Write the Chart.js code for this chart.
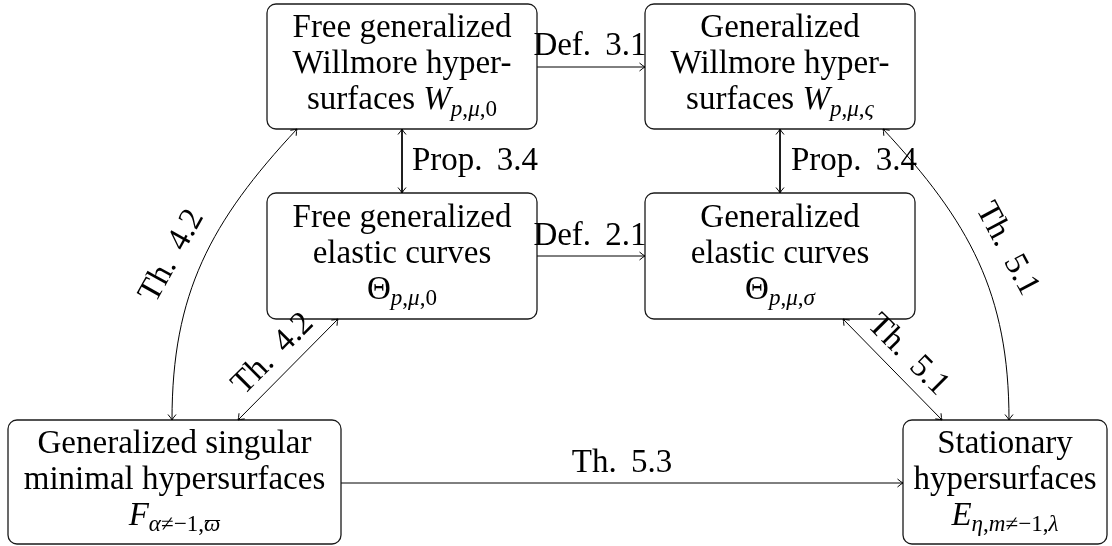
<!DOCTYPE html>
<html>
<head>
<meta charset="utf-8">
<script src="https://cdn.jsdelivr.net/npm/chart.js@4/dist/chart.umd.min.js"></script>
<style>
  html, body { margin: 0; padding: 0; background: #fff; }
  canvas { display: block; }
</style>
</head>
<body>
<canvas id="grafica" width="1112" height="546"></canvas>
<script>
// Nodes of the diagram (text, $...$ = math, _{...} = subscript)
const nodeLines = [
    ['Free generalized', 'Willmore hyper-', 'surfaces $W_{p,μ,0}$'],
    ['Generalized', 'Willmore hyper-', 'surfaces $W_{p,μ,ς}$'],
    ['Free generalized', 'elastic curves', '$Θ_{p,μ,0}$'],
    ['Generalized', 'elastic curves', '$Θ_{p,μ,σ}$'],
    ['Generalized singular', 'minimal hypersurfaces', '$F_{α≠−1,ϖ}$'],
    ['Stationary', 'hypersurfaces', '$E_{η,m≠−1,λ}$']
];
const nodeX = [402, 780, 402, 780, 174.5, 1005];
const nodeY = [66.5, 66.5, 256, 256, 482, 482];
const nodeW = [270, 270, 270, 270, 333, 204];
const nodeH = [125, 125, 126, 126, 124, 124];

// Edges
const edgeLabels = ['Def. 3.1', 'Prop. 3.4', 'Prop. 3.4', 'Def. 2.1', 'Th. 4.2', 'Th. 4.2', 'Th. 5.1', 'Th. 5.1', 'Th. 5.3'];
const edgeFrom = [[537, 67], [402, 129], [780, 129], [537, 256], [297, 129], [338, 319], [883, 129], [843, 319], [341, 483]];
const edgeTo = [[645, 67], [402, 193], [780, 193], [645, 256], [172, 420], [238, 420], [1009, 420], [942, 420], [903, 483]];
const edgeBoth = [false, true, true, false, true, true, true, true, false];
// [out, in] travel directions (deg, screen) for bent edges
const edgeCurve = [null, null, null, null, [133, 90], null, [47, 90], null, null];
// label anchor, alignment, rotation
const labelPos = [[590, 55], [412, 170], [791, 170], [590, 245], [172, 256], [273, 354], [1007, 249], [908, 355], [622, 472]];
const labelAlign = ['center', 'left', 'left', 'center', 'rot', 'rot', 'rot', 'rot', 'center'];
const labelAngle = [0, 0, 0, 0, -61, -45, 62, 45, 0];

const FONT = '"Liberation Serif", "DejaVu Serif", serif';
const FS = 33;

function parseLine(str) {
    const segs = [];
    str.split('$').forEach((p, k) => {
        if (!p) return;
        if (k % 2 === 0) {
            segs.push({ t: p, it: false, sub: false });
            return;
        }
        const m = p.match(/^(.*?)_\{(.*)\}$/);
        const base = m ? m[1] : p;
        const sub = m ? m[2] : '';
        for (const ch of base) segs.push({ t: ch, it: /[a-zA-Zα-ωϖ]/.test(ch), sub: false });
        for (const ch of sub) segs.push({ t: ch, it: /[a-zA-Zα-ωϖ]/.test(ch), sub: true });
    });
    return segs;
}

function fontOf(seg) {
    const size = seg.sub ? FS * 0.7 : FS;
    return `${seg.it ? 'italic ' : ''}${size}px ${FONT}`;
}

function drawRich(ctx, str, cx, baseline) {
    const segs = parseLine(str);
    let total = 0;
    segs.forEach(s => {
        ctx.font = fontOf(s);
        s.w = ctx.measureText(s.t).width;
        total += s.w;
    });
    let x = cx - total / 2;
    ctx.textAlign = 'left';
    ctx.textBaseline = 'alphabetic';
    segs.forEach(s => {
        ctx.font = fontOf(s);
        ctx.fillText(s.t, x, baseline + (s.sub ? FS * 0.21 : 0));
        x += s.w;
    });
}

// TeX puts a wider space after the abbreviation dot
function labelText(ctx, lab, x, y) {
    const parts = lab.split(' ');
    const gap = ctx.measureText(' ').width + 6;
    const w0 = ctx.measureText(parts[0]).width;
    const w = w0 + gap + ctx.measureText(parts[1]).width;
    let start = x;
    if (ctx.textAlign === 'center') start = x - w / 2;
    ctx.textAlign = 'left';
    ctx.fillText(parts[0], start, y);
    ctx.fillText(parts[1], start + w0 + gap, y);
}

function arrowHead(ctx, x, y, ang) {
    const L = 5.5, W = 4;
    const dx = Math.cos(ang), dy = Math.sin(ang);
    const px = -dy, py = dx;
    [-1, 1].forEach(s => {
        ctx.beginPath();
        ctx.moveTo(x - L * dx + s * W * px, y - L * dy + s * W * py);
        ctx.quadraticCurveTo(x - 1.5 * dx + s * 0.6 * px, y - 1.5 * dy + s * 0.6 * py, x, y);
        ctx.stroke();
    });
}

function roundRect(ctx, x, y, w, h, r) {
    ctx.beginPath();
    ctx.moveTo(x + r, y);
    ctx.arcTo(x + w, y, x + w, y + h, r);
    ctx.arcTo(x + w, y + h, x, y + h, r);
    ctx.arcTo(x, y + h, x, y, r);
    ctx.arcTo(x, y, x + w, y, r);
    ctx.closePath();
}

const diagramPlugin = {
    id: 'diagram',
    afterDatasetsDraw(chart) {
        const ctx = chart.ctx;
        const sx = chart.scales.x, sy = chart.scales.y;
        const px = v => sx.getPixelForValue(v);
        const py = v => sy.getPixelForValue(v);
        ctx.save();

        // boxes + text
        nodeLines.forEach((lines, i) => {
            const x0 = px(nodeX[i] - nodeW[i] / 2), x1 = px(nodeX[i] + nodeW[i] / 2);
            const y0 = py(nodeY[i] - nodeH[i] / 2), y1 = py(nodeY[i] + nodeH[i] / 2);
            ctx.strokeStyle = '#1a1a1a';
            ctx.lineWidth = 1.3;
            roundRect(ctx, x0, y0, x1 - x0, y1 - y0, 9);
            ctx.stroke();
            ctx.fillStyle = '#000';
            lines.forEach((ln, k) => {
                drawRich(ctx, ln, px(nodeX[i]), py(nodeY[i]) - 29.5 + k * 36);
            });
        });

        // bent edges and arrow heads
        ctx.strokeStyle = '#000';
        ctx.lineWidth = 1;
        edgeFrom.forEach((f, i) => {
            const a = [px(f[0]), py(f[1])];
            const b = [px(edgeTo[i][0]), py(edgeTo[i][1])];
            let angA, angB;
            if (edgeCurve[i]) {
                const d = 0.4 * Math.hypot(b[0] - a[0], b[1] - a[1]);
                const o = edgeCurve[i][0] * Math.PI / 180, n = edgeCurve[i][1] * Math.PI / 180;
                ctx.beginPath();
                ctx.moveTo(a[0], a[1]);
                ctx.bezierCurveTo(a[0] + d * Math.cos(o), a[1] + d * Math.sin(o),
                    b[0] - d * Math.cos(n), b[1] - d * Math.sin(n), b[0], b[1]);
                ctx.stroke();
                angA = o + Math.PI;
                angB = n;
            } else {
                angB = Math.atan2(b[1] - a[1], b[0] - a[0]);
                angA = angB + Math.PI;
            }
            arrowHead(ctx, b[0], b[1], angB);
            if (edgeBoth[i]) arrowHead(ctx, a[0], a[1], angA);
        });

        // edge labels
        ctx.fillStyle = '#000';
        ctx.font = `${FS}px ${FONT}`;
        edgeLabels.forEach((lab, i) => {
            const x = px(labelPos[i][0]), y = py(labelPos[i][1]);
            if (labelAlign[i] === 'rot') {
                ctx.save();
                ctx.translate(x, y);
                ctx.rotate(labelAngle[i] * Math.PI / 180);
                ctx.textAlign = 'center';
                ctx.textBaseline = 'middle';
                labelText(ctx, lab, 0, 0);
                ctx.restore();
            } else {
                ctx.textAlign = labelAlign[i];
                ctx.textBaseline = 'alphabetic';
                labelText(ctx, lab, x, y);
            }
        });
        ctx.restore();
    }
};

document.addEventListener('DOMContentLoaded', () => {
    const ctx = document.getElementById('grafica').getContext('2d');

    // straight edges are plain line datasets
    const datasets = [];
    edgeFrom.forEach((f, i) => {
        if (edgeCurve[i]) return;
        datasets.push({
            label: edgeLabels[i],
            data: [{ x: f[0], y: f[1] }, { x: edgeTo[i][0], y: edgeTo[i][1] }],
            showLine: true,
            borderColor: '#000',
            borderWidth: 1,
            pointRadius: 0,
            clip: false
        });
    });

    new Chart(ctx, {
        type: 'scatter',
        data: { datasets: datasets },
        options: {
            responsive: false,
            animation: false,
            events: [],
            layout: { padding: 0 },
            plugins: { legend: { display: false }, tooltip: { enabled: false } },
            scales: {
                x: { type: 'linear', min: 0, max: 1112, display: false },
                y: { type: 'linear', min: 0, max: 546, reverse: true, display: false }
            }
        },
        plugins: [diagramPlugin]
    });
});
</script>
</body>
</html>
